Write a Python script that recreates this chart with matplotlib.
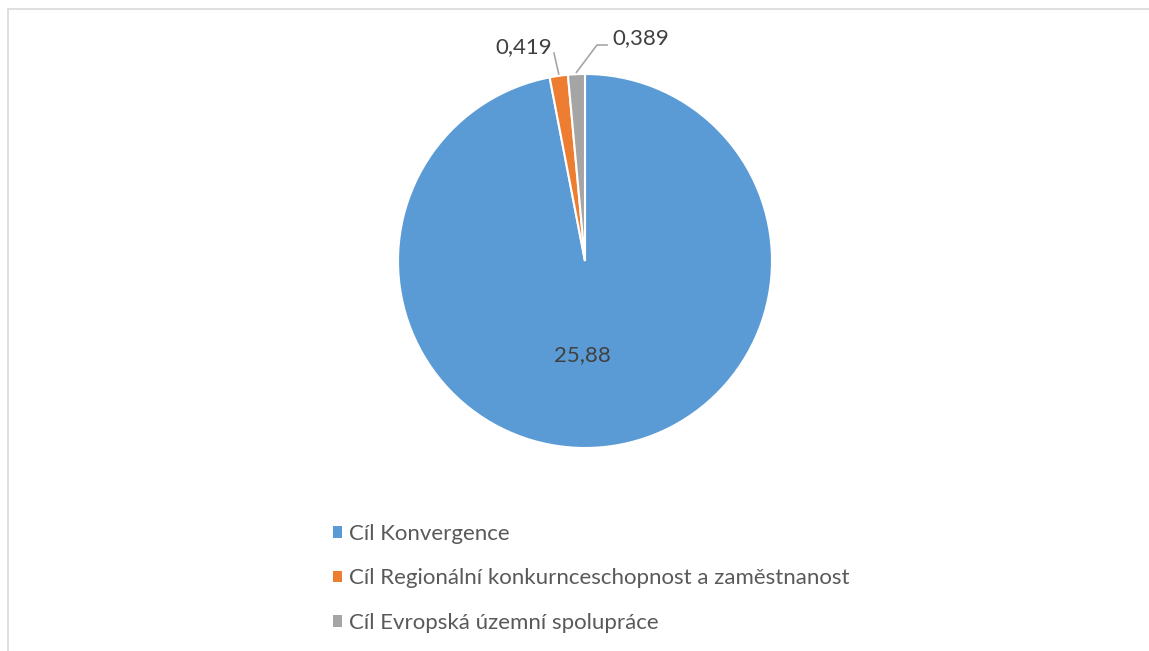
import numpy as np
import matplotlib
matplotlib.use("Agg")
import matplotlib.pyplot as plt
from matplotlib.patches import Rectangle, Patch

# data
labels = ["Cíl Konvergence",
          "Cíl Regionální konkurnceschopnost a zaměstnanost",
          "Cíl Evropská územní spolupráce"]
values = [25.88, 0.419, 0.389]
value_texts = ["25,88", "0,419", "0,389"]
colors = ["#5B9BD5", "#ED7D31", "#A5A5A5"]

W, H = 1149, 651
plt.rcParams["font.family"] = ["Lato", "DejaVu Sans"]
fig = plt.figure(figsize=(W / 100, H / 100), dpi=100)

# light frame round the chart area
fig.patches.append(Rectangle((8 / W, -0.05), 1.2, 1 - 9 / H + 0.05,
                             transform=fig.transFigure, fill=False,
                             edgecolor="#d9d9d9", linewidth=1.2))

# pie centre (585, 261) px, radius 187 px
cx, cy, r = 585, 261, 187
ax = fig.add_axes([(cx - r) / W, (H - cy - r) / H, 2 * r / W, 2 * r / H])
wedges, _ = ax.pie(values, colors=colors, startangle=90, counterclock=False,
                   radius=1.0, wedgeprops=dict(edgecolor="white", linewidth=1.5))
ax.set_xlim(-1, 1)
ax.set_ylim(-1, 1)
ax.set_aspect("equal")
ax.axis("off")

fs = 16
txt_color = "#404040"
# inner label
ax.text(-0.016, -0.503, value_texts[0], ha="center", va="center",
        fontsize=fs, color=txt_color)

# outer labels with leader lines
def mid_point(w):
    a = np.deg2rad((w.theta1 + w.theta2) / 2)
    return np.cos(a), np.sin(a)

x0, y0 = mid_point(wedges[1])
ax.plot([x0, -0.166], [y0 + 0.01, 1.112], color="#a6a6a6", lw=1.2, clip_on=False)
ax.text(-0.176, 1.145, value_texts[1], ha="right", va="center",
        fontsize=fs, color=txt_color)

x0, y0 = mid_point(wedges[2])
ax.plot([x0, 0.064, 0.118], [y0 + 0.01, 1.155, 1.155], color="#a6a6a6", lw=1.2,
        clip_on=False)
ax.text(0.144, 1.19, value_texts[2], ha="left", va="center",
        fontsize=fs, color=txt_color)

handles = [Patch(facecolor=c, edgecolor="none") for c in colors]
leg = fig.legend(handles, labels, loc="upper left",
                 bbox_to_anchor=(333 / W, 1 - 524 / H), frameon=False,
                 borderaxespad=0, borderpad=0,
                 fontsize=fs, labelcolor="#595959", handlelength=0.4,
                 handleheight=0.4, handletextpad=0.3, labelspacing=1.1)

fig.savefig("out.png", dpi=100)
